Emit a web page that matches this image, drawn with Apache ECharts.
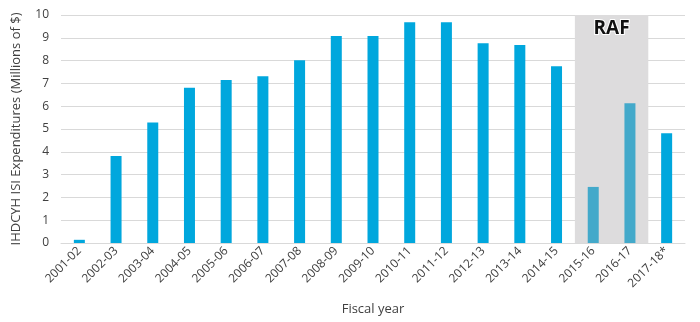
<!DOCTYPE html>
<html><head><meta charset="utf-8">
<script src="https://cdn.jsdelivr.net/npm/echarts@6/dist/echarts.min.js"></script>
<style>html,body{margin:0;padding:0;background:#fff}#c{width:700px;height:322px}</style>
</head><body><div id="c"></div>
<script>
const categories = ['2001-02','2002-03','2003-04','2004-05','2005-06','2006-07','2007-08','2008-09','2009-10','2010-11','2011-12','2012-13','2013-14','2014-15','2015-16','2016-17','2017-18*'];
const values = [0.14,3.82,5.29,6.81,7.15,7.31,8.01,9.08,9.08,9.68,9.68,8.76,8.68,7.75,2.46,6.13,4.81];
const rafCategories = ['2015-16','2016-17'];
const rafLabel = 'RAF';
const yTicks = [0,1,2,3,4,5,6,7,8,9,10];

const mainColor = '#00A7DD';
const rafColor = '#43A9CA';
const font = '"Open Sans", "Liberation Sans", sans-serif';

const chart = echarts.init(document.getElementById('c'));
const i0 = categories.indexOf(rafCategories[0]);
const i1 = categories.indexOf(rafCategories[rafCategories.length-1]);
const yMax = yTicks[yTicks.length-1];
chart.setOption({
  animation: false,
  grid: {left: 61, right: 15, top: 15, bottom: 79},
  xAxis: {
    type: 'category', data: categories,
    name: 'Fiscal year', nameLocation: 'middle', nameGap: 60,
    nameTextStyle: {fontFamily: font, fontSize: 13, color: '#404040'},
    axisLine: {lineStyle: {color: '#d9d9d9'}},
    axisTick: {show: false},
    axisLabel: {rotate: 45, interval: 0, fontFamily: font, fontSize: 12, color: '#404040', margin: 6}
  },
  yAxis: {
    type: 'value', min: 0, max: 10, interval: 1,
    name: 'IHDCYH ISI Expenditures (Millions of $)', nameLocation: 'middle', nameGap: 38,
    nameTextStyle: {fontFamily: font, fontSize: 13, color: '#404040'},
    axisLine: {show: false}, axisTick: {show: false},
    axisLabel: {fontFamily: font, fontSize: 12, color: '#404040', margin: 12},
    splitLine: {lineStyle: {color: '#d9d9d9', width: 1}}
  },
  series: [{
    type: 'custom', silent: true, z: 3,
    data: [[i0, i1, yMax]],
    renderItem: function (params, api) {
      const bw = api.size([1, 0])[0];
      const a = api.coord([api.value(0), api.value(2)]);
      const b = api.coord([api.value(1), 0]);
      return {type: 'rect', shape: {x: a[0] - bw/2, y: a[1], width: b[0] - a[0] + bw, height: b[1] - a[1]},
        style: {fill: '#dddcdd'}};
    }
  },{
    type: 'bar', barWidth: 11, z: 4,
    data: values.map((v,i) => ({value: v, itemStyle: {color: rafCategories.includes(categories[i]) ? rafColor : mainColor}}))
  }]
});
const p0 = chart.convertToPixel({xAxisIndex: 0, yAxisIndex: 0}, [i0, yMax]);
const p1 = chart.convertToPixel({xAxisIndex: 0, yAxisIndex: 0}, [i1, yMax]);
chart.setOption({graphic: [{
  type: 'text', x: (p0[0]+p1[0])/2, y: p0[1] + 14, z: 10,
  style: {text: rafLabel, fontFamily: font, fontWeight: 'bold', fontSize: 19, fill: '#111', stroke: '#fff', lineWidth: 2, textAlign: 'center', textVerticalAlign: 'middle'}
}]});
</script></body></html>
